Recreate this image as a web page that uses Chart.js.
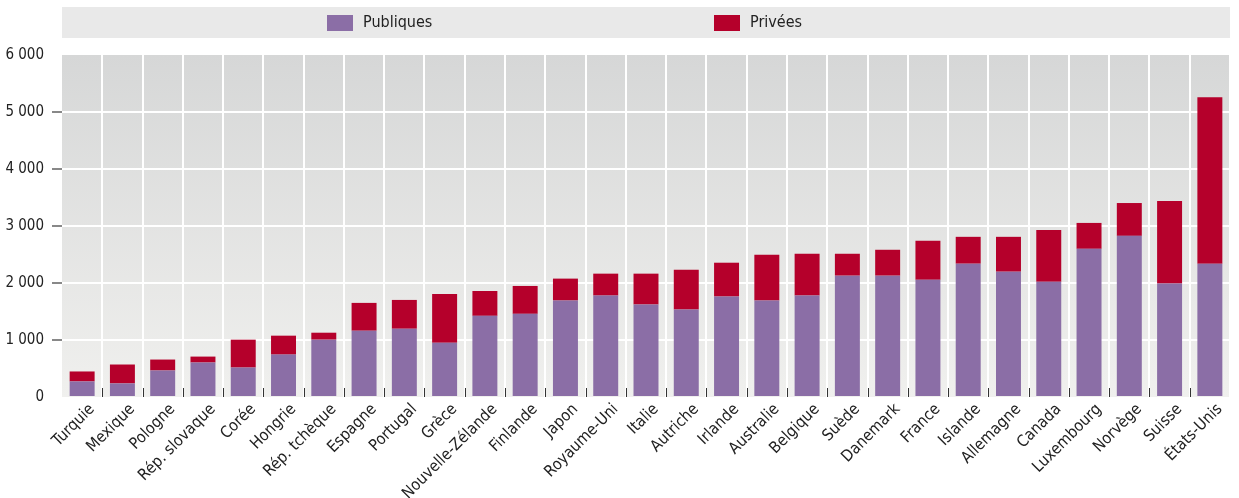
<!DOCTYPE html>
<html>
<head>
<meta charset="utf-8">
<script src="https://cdn.jsdelivr.net/npm/chart.js@4.4.1/dist/chart.umd.min.js"></script>
<style>
    html, body { margin: 0; padding: 0; background: #fff; }
    #wrap { width: 1239px; height: 498px; }
</style>
</head>
<body>
<div id="wrap"><canvas id="chart" width="1239" height="498"></canvas></div>
<script>
const pays = ["Turquie", "Mexique", "Pologne", "Rép. slovaque", "Corée", "Hongrie", "Rép. tchèque",
    "Espagne", "Portugal", "Grèce", "Nouvelle-Zélande", "Finlande", "Japon", "Royaume-Uni", "Italie",
    "Autriche", "Irlande", "Australie", "Belgique", "Suède", "Danemark", "France", "Islande",
    "Allemagne", "Canada", "Luxembourg", "Norvège", "Suisse", "États-Unis"];

// dépenses publiques (USD PPA par habitant)
const publiques = [273, 238, 465, 605, 517, 744, 1006, 1163, 1198, 953, 1424, 1459, 1693, 1780, 1623,
    1536, 1763, 1693, 1780, 2129, 2129, 2059, 2339, 2199, 2024, 2600, 2827, 1990, 2339];

// dépenses privées = total - publiques
const totaux = [448, 570, 657, 709, 1006, 1076, 1128, 1651, 1703, 1808, 1860, 1948, 2077, 2164, 2164,
    2234, 2356, 2496, 2513, 2513, 2583, 2740, 2810, 2810, 2932, 3054, 3403, 3438, 5260];
const privees = totaux.map((t, i) => t - publiques[i]);

const yTicks = [0, 1000, 2000, 3000, 4000, 5000, 6000];

const violet = "#8b6ea6";
const rouge = "#b5002b";
const police = "'DejaVu Sans Condensed', 'Liberation Sans', sans-serif";

function milliers(v) {
    return String(v).replace(/\B(?=(\d{3})+(?!\d))/g, " ");
}

// fond dégradé de la zone de tracé + bandeau de légende
const fond = {
    id: "fond",
    beforeDraw(chart) {
        const { ctx, chartArea: a } = chart;
        const g = ctx.createLinearGradient(0, a.top, 0, a.bottom);
        g.addColorStop(0, "#d6d7d7");
        g.addColorStop(1, "#f0f0ee");
        ctx.save();
        ctx.fillStyle = g;
        ctx.fillRect(a.left, a.top, a.right - a.left, a.bottom - a.top);

        // bandeau légende
        ctx.fillStyle = "#e9e9e9";
        ctx.fillRect(a.left, 7, a.right - a.left, 31);
        const items = [
            { x: 327, texte: chart.data.datasets[0].label, c: chart.data.datasets[0].backgroundColor },
            { x: 714, texte: chart.data.datasets[1].label, c: chart.data.datasets[1].backgroundColor },
        ];
        ctx.font = "16px " + police;
        ctx.textBaseline = "middle";
        items.forEach(it => {
            ctx.fillStyle = it.c;
            ctx.fillRect(it.x, 15, 26, 16);
            ctx.fillStyle = "#222";
            ctx.fillText(it.texte, it.x + 36, 23);
        });
        ctx.restore();
    },
    afterDatasetsDraw(chart) {
        // petites graduations en bas entre les catégories
        const { ctx, chartArea: a, scales } = chart;
        const x = scales.x;
        const pas = (a.right - a.left) / pays.length;
        ctx.save();
        ctx.strokeStyle = "#333";
        ctx.lineWidth = 1;
        for (let i = 1; i < pays.length; i++) {
            const px = Math.round(x.getPixelForValue(i) - pas / 2) + 0.5;
            ctx.beginPath();
            ctx.moveTo(px, a.bottom - 9);
            ctx.lineTo(px, a.bottom);
            ctx.stroke();
        }
        ctx.restore();
    }
};

new Chart(document.getElementById("chart"), {
    type: "bar",
    data: {
        labels: pays,
        datasets: [
            { label: "Publiques", data: publiques, backgroundColor: violet },
            { label: "Privées", data: privees, backgroundColor: rouge },
        ]
    },
    options: {
        responsive: false,
        animation: false,
        layout: { padding: { top: 55, right: 9, left: 0, bottom: 0 } },
        datasets: { bar: { categoryPercentage: 1, barPercentage: 0.62 } },
        plugins: {
            legend: { display: false },
            tooltip: { enabled: false },
        },
        scales: {
            x: {
                stacked: true,
                border: { display: false },
                grid: {
                    offset: true,
                    drawTicks: false,
                    lineWidth: 2,
                    color: ctx => (ctx.index === 0 || ctx.index === pays.length) ? "rgba(0,0,0,0)" : "#ffffff",
                },
                ticks: {
                    autoSkip: false,
                    maxRotation: 45,
                    minRotation: 45,
                    padding: 3,
                    labelOffset: 10,
                    color: "#222",
                    font: { family: police, size: 16 },
                },
                afterFit(scale) { scale.height = 101; }
            },
            y: {
                stacked: true,
                min: 0,
                max: 6000,
                border: { display: false },
                afterBuildTicks(scale) { scale.ticks = yTicks.map(v => ({ value: v })); },
                grid: {
                    lineWidth: 2,
                    tickLength: 10,
                    color: ctx => (ctx.tick && ctx.tick.value > 0 && ctx.tick.value < 6000) ? "#ffffff" : "rgba(0,0,0,0)",
                    tickColor: ctx => (ctx.tick && ctx.tick.value > 0 && ctx.tick.value < 6000) ? "#888888" : "rgba(0,0,0,0)",
                },
                ticks: {
                    padding: 8,
                    color: "#222",
                    font: { family: police, size: 15 },
                    callback: v => milliers(v),
                },
                afterFit(scale) { scale.width = 62; }
            }
        }
    },
    plugins: [fond]
});
</script>
</body>
</html>
